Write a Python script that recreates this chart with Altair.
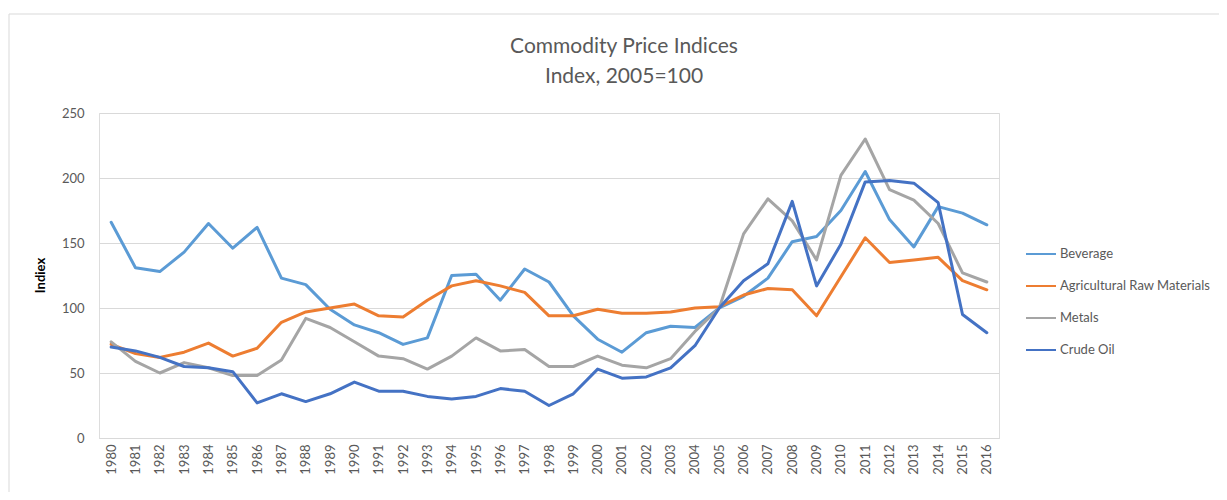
import altair as alt
import pandas as pd

years = [str(y) for y in range(1980, 2017)]
series_names = ["Beverage", "Agricultural Raw Materials", "Metals", "Crude Oil"]
series_colors = ["#5B9BD5", "#ED7D31", "#A5A5A5", "#4472C4"]

beverage = [166, 131, 128, 143, 165, 146, 162, 123, 118, 99,
            87, 81, 72, 77, 125, 126, 106, 130, 120, 94,
            76, 66, 81, 86, 85, 100, 109, 123, 151, 155,
            175, 205, 168, 147, 178, 173, 164]
agri = [72, 65, 62, 66, 73, 63, 69, 89, 97, 100,
        103, 94, 93, 106, 117, 121, 117, 112, 94, 94,
        99, 96, 96, 97, 100, 101, 110, 115, 114, 94,
        124, 154, 135, 137, 139, 121, 114]
metals = [74, 59, 50, 58, 54, 48, 48, 60, 92, 85,
          74, 63, 61, 53, 63, 77, 67, 68, 55, 55,
          63, 56, 54, 61, 82, 100, 157, 184, 167, 137,
          202, 230, 191, 183, 165, 127, 120]
crude = [70, 67, 62, 55, 54, 51, 27, 34, 28, 34,
         43, 36, 36, 32, 30, 32, 38, 36, 25, 34,
         53, 46, 47, 54, 71, 100, 121, 134, 182, 117,
         149, 197, 198, 196, 181, 95, 81]

rows = []
for name, vals in zip(series_names, [beverage, agri, metals, crude]):
    for y, v in zip(years, vals):
        rows.append({"Year": y, "Series": name, "Value": v})
df = pd.DataFrame(rows)

FONT = "Lato"
GRAY = "#595959"

lines = alt.Chart(df).mark_line(strokeWidth=3, strokeJoin="round", strokeCap="round").encode(
    x=alt.X("Year:O", sort=years,
            scale=alt.Scale(type="point", padding=0.5),
            axis=alt.Axis(title=None, labelAngle=-90, labelAlign="right", labelBaseline="middle",
                          labelPadding=6, labelFontSize=13, labelColor=GRAY, labelFont=FONT,
                          ticks=False, domainColor="#d9d9d9", grid=False)),
    y=alt.Y("Value:Q", scale=alt.Scale(domain=[0, 250], nice=False),
            axis=alt.Axis(values=[0, 50, 100, 150, 200, 250], title="Indiex",
                          titleFontWeight="bold", titleFontSize=13, titleColor="#000000",
                          titleFont=FONT, titleX=-59, titleY=162, titleAngle=-90,
                          titleAlign="center", titleBaseline="middle",
                          labelFontSize=13, labelColor=GRAY, labelFont=FONT, labelPadding=15,
                          ticks=False, domain=False, gridColor="#d9d9d9", gridWidth=1)),
    color=alt.Color("Series:N", sort=series_names,
                    scale=alt.Scale(domain=series_names, range=series_colors),
                    legend=alt.Legend(title=None, orient="none", legendX=926, legendY=125,
                                      symbolType="stroke", symbolSize=900, symbolStrokeWidth=2,
                                      labelFontSize=13, labelColor=GRAY, labelFont=FONT,
                                      rowPadding=9, labelOffset=3)),
    order=alt.Order("Year:O"),
)

frame_data = alt.Data(values=[{"k": 1}])
top_rule = alt.Chart(frame_data).mark_rule(color="#d9d9d9", strokeWidth=1).encode(
    x=alt.value(-90), x2=alt.value(1130), y=alt.value(-99))
left_rule = alt.Chart(frame_data).mark_rule(color="#d9d9d9", strokeWidth=1).encode(
    x=alt.value(-90), y=alt.value(-99), y2=alt.value(400))

chart = alt.layer(top_rule, left_rule, lines).properties(
    width=900, height=325,
    title=alt.TitleParams(text=["Commodity Price Indices", "Index, 2005=100"],
                          anchor="middle", frame="group", dx=75, dy=99, fontSize=21,
                          fontWeight="normal", color=GRAY, font=FONT, lineHeight=30, offset=26),
    padding={"left": 91, "top": 105, "right": 220, "bottom": 54},
    autosize=alt.AutoSizeParams(type="none"),
).configure_view(stroke=None).configure(background="white")

chart.save("out.html", embed_options={"renderer": "svg", "actions": False})
